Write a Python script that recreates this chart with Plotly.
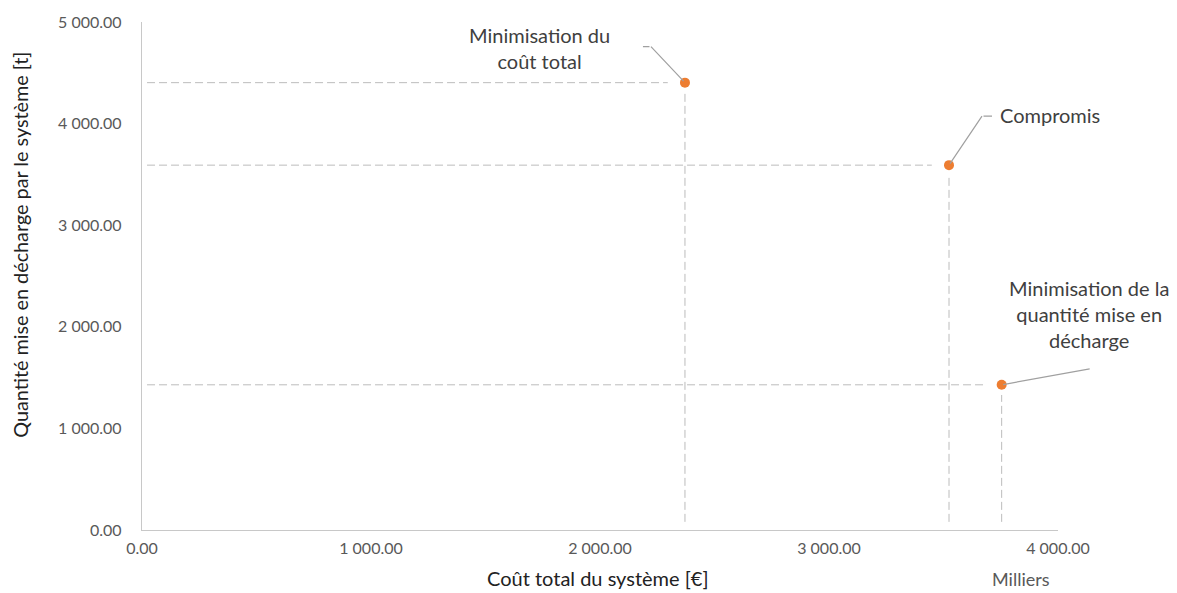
import plotly.graph_objects as go

# ---- data ----
cout_total = [2371, 3524, 3754]          # coût total du système, milliers d'€
quantite = [4403, 3591, 1429]            # quantité mise en décharge, t
noms = [
    "Minimisation du<br>coût total",
    "Compromis",
    "Minimisation de la<br>quantité mise en<br>décharge",
]
x_ticks = [0, 1000, 2000, 3000, 4000]
y_ticks = [0, 1000, 2000, 3000, 4000, 5000]

# ---- style / layout constants ----
FONT = "Lato"
ORANGE = "#ED7D31"
GUIDE = "#BCBCBC"
LEADER = "#A0A0A0"
H_START, H_GAP = 22, 75        # horizontal guide: start x, gap before point (data units)
V_END, V_GAP = 80, 100         # vertical guide: bottom y, gap under point (data units)

# label placement (pixel offsets from point: dx right, dy up)
label_pos = [(-145, 35, "center"), (49, 50, "left"), (87, 71, "center")]
# leader polylines, pixel offsets from the point (x right, y down)
leaders = [
    [(0, 0), (-34, -36), (-42, -36)],
    [(0, 0), (33, -49), (43, -49)],
    [(0, 0), (88, -16)],
]

fig = go.Figure()

for x, y in zip(cout_total, quantite):
    fig.add_trace(go.Scatter(
        x=[H_START, x - H_GAP], y=[y, y], mode="lines",
        line=dict(color=GUIDE, width=1, dash="8px,4px"),
        hoverinfo="skip", showlegend=False))
    fig.add_trace(go.Scatter(
        x=[x, x], y=[V_END, y - V_GAP], mode="lines",
        line=dict(color=GUIDE, width=1, dash="8px,4px"),
        hoverinfo="skip", showlegend=False))

fig.add_trace(go.Scatter(
    x=cout_total, y=quantite, mode="markers",
    marker=dict(color=ORANGE, size=10),
    showlegend=False))

annotations = []
for x, y, nom, (dx, dy, anc), pts in zip(cout_total, quantite, noms, label_pos, leaders):
    annotations.append(dict(
        x=x, y=y, xref="x", yref="y", text=nom, showarrow=False,
        xshift=dx, yshift=dy, xanchor=anc, yanchor="middle",
        align="center", font=dict(family=FONT, size=20, color="#404040")))
    for p0, p1 in zip(pts[:-1], pts[1:]):
        # draw segment p0 -> p1 via an arrow (head at p1, tail at p0)
        annotations.append(dict(
            x=x, y=y, xref="x", yref="y", text="", showarrow=True,
            xshift=p1[0], yshift=-p1[1],
            ax=p0[0] - p1[0], ay=p0[1] - p1[1],
            arrowhead=0, arrowwidth=1.2, arrowcolor=LEADER, standoff=0, startstandoff=0))

# axis titles
annotations.append(dict(
    x=0.498, y=0, xref="paper", yref="paper", yshift=-34, xanchor="center", yanchor="top",
    text="Coût total du système [€]", showarrow=False,
    font=dict(family=FONT, size=20, color="#222222")))
annotations.append(dict(
    x=0.9596, y=0, xref="paper", yref="paper", yshift=-36, xanchor="center", yanchor="top",
    text="Milliers", showarrow=False,
    font=dict(family=FONT, size=18, color="#595959")))
annotations.append(dict(
    x=0, y=0.5616, xref="paper", yref="paper", xshift=-122, xanchor="center", yanchor="middle",
    text="Quantité mise en décharge par le système [t]", textangle=-90, showarrow=False,
    font=dict(family=FONT, size=19.8, color="#222222")))

axis_common = dict(
    showgrid=False, zeroline=False, showline=True, linecolor="#C8C8C8", linewidth=1.3,
    ticks="", tickformat=",.2f", tickfont=dict(family=FONT, size=16, color="#595959"),
)

fig.update_layout(
    width=1177, height=593,
    margin=dict(l=142, r=119, t=19, b=63),
    paper_bgcolor="white", plot_bgcolor="white",
    separators=". ",
    xaxis=dict(range=[0, 4000], tickvals=x_ticks, ticklabelstandoff=4, **axis_common),
    yaxis=dict(range=[0, 5000], tickvals=y_ticks, ticklabelstandoff=16, **axis_common),
    annotations=annotations,
    font=dict(family=FONT),
)

fig.write_html("out.html")
